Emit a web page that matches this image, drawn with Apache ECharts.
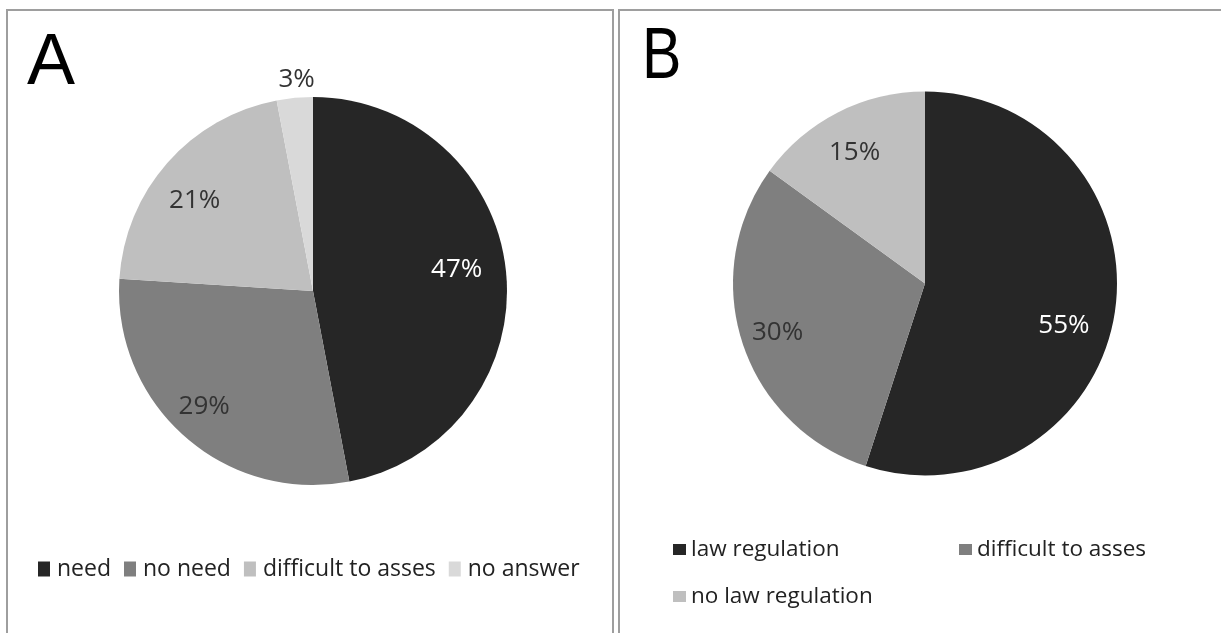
<!DOCTYPE html>
<html>
<head>
<meta charset="utf-8">
<script src="https://cdn.jsdelivr.net/npm/echarts@6/dist/echarts.min.js"></script>
<style>
html,body{margin:0;padding:0;background:#fff;}
#chart{width:1221px;height:633px;}
</style>
</head>
<body>
<div id="chart"></div>
<script>
// Panel A
const categoriesA = ['need', 'no need', 'difficult to asses', 'no answer'];
const valuesA = [47, 29, 21, 3];
const colorsA = ['#262626', '#7f7f7f', '#bfbfbf', '#d9d9d9'];
const labelColorsA = ['#ffffff', '#333333', '#333333', '#333333'];
// label nudges (style only): [dx, dy] in px
const nudgeA = [[-8, -7], [-8, 1], [-4, 10], [4, 4]];

// Panel B
const categoriesB = ['law regulation', 'difficult to asses', 'no law regulation'];
const valuesB = [55, 30, 15];
const colorsB = ['#262626', '#7f7f7f', '#bfbfbf'];
const labelColorsB = ['#ffffff', '#333333', '#333333'];
const nudgeB = [[-10, 18], [-4, 2], [-2, 3]];

const FONT = 'Open Sans';
const pctFmt = p => p.value + '%';

const CA = [313, 291], RA = 194;
const CB = [925, 283.5], RB = 192;

function mainData(cats, vals, cols) {
  return cats.map((c, i) => ({ name: c, value: vals[i], itemStyle: { color: cols[i] } }));
}
// one transparent overlay pie per label, so each label can be nudged
function labelSeries(cats, vals, lcols, nudges, center, R, outsideIdx) {
  return cats.map((c, k) => {
    const outside = outsideIdx.indexOf(k) >= 0;
    return {
      type: 'pie', silent: true, animation: false,
      center: [center[0] + nudges[k][0], center[1] + nudges[k][1]],
      radius: outside ? [R, R * 1.2] : [R * 0.54, R],
      itemStyle: { color: 'rgba(0,0,0,0)' },
      labelLine: { show: false },
      emphasis: { disabled: true },
      label: { position: 'inside', formatter: pctFmt, fontFamily: FONT, fontSize: 26 },
      data: cats.map((cc, i) => ({
        name: cc, value: vals[i],
        label: { show: i === k, color: lcols[i] }
      }))
    };
  });
}

const chart = echarts.init(document.getElementById('chart'));
chart.setOption({
  animation: false,
  graphic: [
    { type: 'rect', shape: { x: 7, y: 10, width: 606, height: 700 }, style: { fill: 'none', stroke: '#9e9e9e', lineWidth: 2 }, z: 0 },
    { type: 'rect', shape: { x: 619, y: 10, width: 700, height: 700 }, style: { fill: 'none', stroke: '#9e9e9e', lineWidth: 2 }, z: 0 },
    { type: 'text', x: 27, y: 64, style: { text: 'A', font: '72px "Liberation Sans"', fill: '#000', verticalAlign: 'middle' } },
    { type: 'text', x: 642, y: 58, scaleX: 0.82, style: { text: 'B', font: '72px "Liberation Sans"', fill: '#000', verticalAlign: 'middle' } }
  ],
  legend: [
    {
      data: categoriesA.map((c, i) => ({ name: c, itemStyle: { color: colorsA[i] } })),
      left: 33, top: 552, orient: 'horizontal',
      itemWidth: 12, itemHeight: 15, itemGap: 13,
      icon: 'rect', selectedMode: false,
      textStyle: { fontFamily: FONT, fontSize: 23, color: '#222', lineHeight: 24, padding: [0, 0, 0, 2] }
    },
    {
      data: categoriesB.map((c, i) => ({ name: c, itemStyle: { color: colorsB[i] } })),
      left: 668, top: 530, width: 560, orient: 'horizontal',
      itemWidth: 13, itemHeight: 11, itemGap: 18,
      icon: 'rect', selectedMode: false,
      textStyle: { fontFamily: FONT, fontSize: 22.5, color: '#222', lineHeight: 29, width: 250 }
    }
  ],
  series: [
    {
      type: 'pie', center: CA, radius: [0, RA], startAngle: 90, clockwise: true,
      silent: true, label: { show: false }, labelLine: { show: false },
      data: mainData(categoriesA, valuesA, colorsA)
    },
    {
      type: 'pie', center: CB, radius: [0, RB], startAngle: 90, clockwise: true,
      silent: true, label: { show: false }, labelLine: { show: false },
      data: mainData(categoriesB, valuesB, colorsB)
    }
  ].concat(
    labelSeries(categoriesA, valuesA, labelColorsA, nudgeA, CA, RA, [3]),
    labelSeries(categoriesB, valuesB, labelColorsB, nudgeB, CB, RB, [])
  )
});
</script>
</body>
</html>
